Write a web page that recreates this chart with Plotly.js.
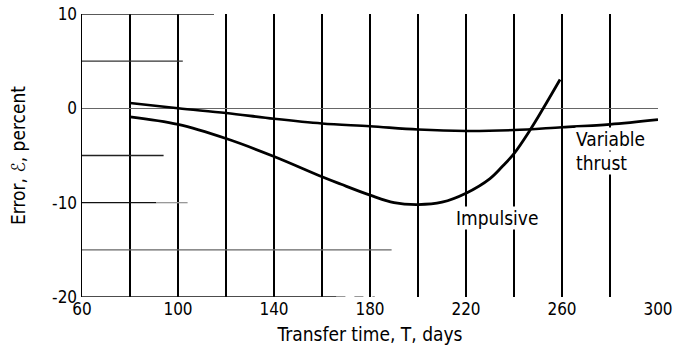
<!DOCTYPE html>
<html>
<head>
<meta charset="utf-8">
<script src="https://cdn.plot.ly/plotly-3.0.1.min.js"></script>
<style>
  html, body { margin: 0; padding: 0; background: #fff; }
  #chart { width: 677px; height: 350px; }
</style>
</head>
<body>
<div id="chart"></div>
<script>
// Transfer time, days
const xTickVals = [60, 100, 140, 180, 220, 260, 300];
const yTickVals = [10, 0, -10, -20];
const yTickText = ['10', '0', '-10', '-20'];

// Variable-thrust error curve
const varT = [80, 100, 120, 140, 160, 180, 200, 220, 240, 260, 280, 300];
const varErr = [0.56, 0.0, -0.5, -1.1, -1.6, -1.9, -2.25, -2.4, -2.3, -2.0, -1.7, -1.2];

// Impulsive error curve
const impT = [80, 100, 120, 140, 160, 168, 180, 190, 200, 210, 220, 230, 235, 240, 246.7, 252.2, 259.2];
const impErr = [-0.9, -1.7, -3.2, -5.1, -7.25, -8.05, -9.2, -10.0, -10.2, -9.95, -9.0, -7.45, -6.2, -4.8, -2.3, 0.0, 3.05];

// Partial horizontal rulings: [y, x start, x end, colour]
const rulings = [
  [10, 60, 115, '#222'],
  [5, 60, 102, '#333'],
  [-5, 60, 94, '#222'],
  [-10, 60, 91, '#111'],
  [-10, 91, 104, '#999'],
  [-15, 60, 189, '#666'],
  [-20, 60, 166, '#111']
];

const FONT = '"Liberation Sans Narrow", "DejaVu Sans Condensed", "Arial Narrow", sans-serif';
const TICK_SIZE = 17;
const TEXT_SIZE = 19;

const shapes = rulings.map(r => ({
  type: 'line', xref: 'x', yref: 'y',
  x0: r[1], x1: r[2], y0: r[0], y1: r[0],
  line: { color: r[3], width: 1.3 }
}));
// dashed tail of the bottom ruling
shapes.push({
  type: 'line', xref: 'x', yref: 'y',
  x0: 166, x1: 182, y0: -20, y1: -20,
  line: { color: '#333', width: 1.2, dash: 'dash' }
});

const traces = [
  {
    x: varT, y: varErr, type: 'scatter', mode: 'lines',
    line: { color: '#000', width: 2.6, shape: 'spline', smoothing: 1 },
    hoverinfo: 'skip'
  },
  {
    x: impT, y: impErr, type: 'scatter', mode: 'lines',
    line: { color: '#000', width: 2.8, shape: 'spline', smoothing: 1 },
    hoverinfo: 'skip'
  }
];

const labelFont = { family: FONT, size: TEXT_SIZE, color: '#000' };

const layout = {
  width: 677, height: 350,
  margin: { l: 82, r: 19, t: 14, b: 53 },
  paper_bgcolor: '#fff', plot_bgcolor: '#fff',
  showlegend: false,
  font: labelFont,
  xaxis: {
    range: [60, 300], tickvals: xTickVals,
    showgrid: true, gridcolor: '#000', gridwidth: 1.5,
    minor: { dtick: 20, tick0: 60, showgrid: true, gridcolor: '#000', gridwidth: 1.5 },
    zeroline: false, showline: false, ticks: '',
    tickfont: { family: FONT, size: TICK_SIZE, color: '#000' },
    title: { text: 'Transfer time, T, days', standoff: 9, font: labelFont }
  },
  yaxis: {
    range: [-20, 10], tickvals: yTickVals, ticktext: yTickText,
    showgrid: false, zeroline: true, zerolinecolor: '#666', zerolinewidth: 1,
    showline: true, linecolor: '#000', linewidth: 1.5, ticks: '',
    tickfont: { family: FONT, size: TICK_SIZE, color: '#000' },
    title: { text: 'Error, ℰ, percent', standoff: 21, font: labelFont }
  },
  shapes: shapes,
  annotations: [
    { x: 265.4, y: -4.55, xref: 'x', yref: 'y', text: 'Variable', showarrow: false,
      xanchor: 'left', yanchor: 'bottom', font: labelFont, bgcolor: '#fff', borderpad: 0 },
    { x: 265.4, y: -4.55, xref: 'x', yref: 'y', text: 'thrust', showarrow: false,
      xanchor: 'left', yanchor: 'top', font: labelFont, bgcolor: '#fff', borderpad: 0 },
    { x: 215.4, y: -11.6, xref: 'x', yref: 'y', text: 'Impulsive', showarrow: false,
      xanchor: 'left', yanchor: 'middle', font: labelFont, bgcolor: '#fff', borderpad: 0 }
  ]
};

Plotly.newPlot('chart', traces, layout, { staticPlot: true, displayModeBar: false });
</script>
</body>
</html>
